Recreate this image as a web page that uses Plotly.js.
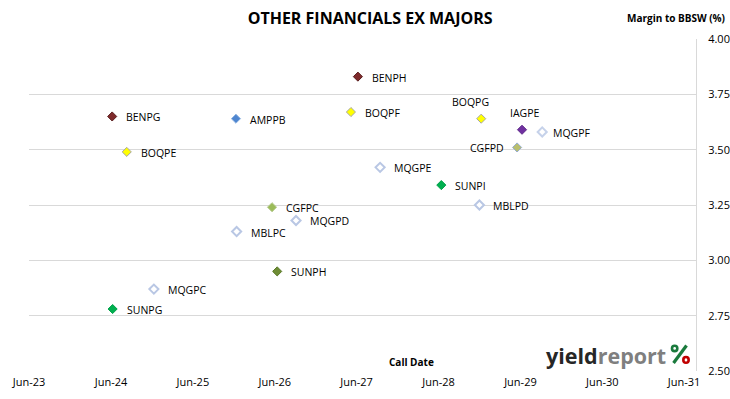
<!DOCTYPE html>
<html>
<head>
<meta charset="utf-8">
<script src="https://cdn.plot.ly/plotly-3.0.1.min.js"></script>
<style>
  html, body { margin: 0; padding: 0; background: #ffffff; }
  #chart { width: 730px; height: 399px; }
</style>
</head>
<body>
<div id="chart"></div>
<script>
// ---- Data ----
const codes = ["BENPH", "BENPG", "AMPPB", "BOQPF", "BOQPE", "BOQPG", "IAGPE", "MQGPF", "CGFPD",
               "MQGPE", "SUNPI", "MBLPD", "CGFPC", "MQGPD", "MBLPC", "SUNPH", "MQGPC", "SUNPG"];
const callDates = ["2027-06-07", "2024-06-06", "2025-12-10", "2027-05-07", "2024-08-10", "2028-12-08",
                   "2029-06-08", "2029-09-06", "2029-05-17", "2027-09-14", "2028-06-13", "2028-11-30",
                   "2026-05-20", "2026-09-04", "2025-12-13", "2026-06-12", "2024-12-09", "2024-06-08"];
const margins = [3.83, 3.65, 3.64, 3.67, 3.49, 3.64, 3.59, 3.58, 3.51,
                 3.42, 3.34, 3.25, 3.24, 3.18, 3.13, 2.95, 2.87, 2.78];
const xTickVals = ["2023-06-01", "2024-06-01", "2025-06-01", "2026-06-01", "2027-06-01",
                   "2028-06-01", "2029-06-01", "2030-06-01", "2031-06-01"];
const xTickText = ["Jun-23", "Jun-24", "Jun-25", "Jun-26", "Jun-27", "Jun-28", "Jun-29", "Jun-30", "Jun-31"];
const yTickVals = [2.5, 2.75, 3.0, 3.25, 3.5, 3.75, 4.0];

// ---- Styles (per issuer) ----
const fillByCode = {
  BENPH: "#7e2a2b", BENPG: "#7e2a2b", AMPPB: "#4f86d0",
  BOQPF: "#ffff00", BOQPE: "#ffff00", BOQPG: "#ffff00",
  IAGPE: "#7030a0", MQGPF: "#ffffff", CGFPD: "#b9bf6e",
  MQGPE: "#ffffff", SUNPI: "#00b050", MBLPD: "#ffffff",
  CGFPC: "#9bbb59", MQGPD: "#ffffff", MBLPC: "#ffffff",
  SUNPH: "#6e8c35", MQGPC: "#ffffff", SUNPG: "#00b050"
};
const lineByCode = {
  BENPH: "#5a1e1e", BENPG: "#5a1e1e", AMPPB: "#8db3e2",
  BOQPF: "#a6a6a6", BOQPE: "#a6a6a6", BOQPG: "#a6a6a6",
  IAGPE: "#5f2a8a", MQGPF: "#c6d2ea", CGFPD: "#95abcf",
  MQGPE: "#b9c7e4", SUNPI: "#00a048", MBLPD: "#b9c7e4",
  CGFPC: "#b3c98a", MQGPD: "#b9c7e4", MBLPC: "#b9c7e4",
  SUNPH: "#5a7a2a", MQGPC: "#b9c7e4", SUNPG: "#00a048"
};
// label placement relative to marker (pixels)
const labelPlace = {
  BOQPG: {anchor: "center", dx: -11, dy: 17},
  IAGPE: {anchor: "left", dx: -14, dy: 17},
  CGFPD: {anchor: "right", dx: -11, dy: -1},
  MQGPF: {anchor: "left", dx: 9, dy: -1}
};

const font = "'Open Sans', 'Noto Sans', sans-serif";

const trace = {
  type: "scatter",
  mode: "markers",
  x: callDates,
  y: margins,
  text: codes,
  hoverinfo: "text",
  marker: {
    symbol: "diamond",
    size: 7,
    opacity: 1,
    color: codes.map(c => fillByCode[c]),
    line: {
      color: codes.map(c => lineByCode[c]),
      width: codes.map(c => fillByCode[c] === "#ffffff" ? 2 : 1)
    }
  },
  showlegend: false,
  cliponaxis: false
};

const annotations = codes.map((c, i) => {
  const p = labelPlace[c] || {anchor: "left", dx: 12, dy: -1};
  return {
    x: callDates[i], y: margins[i], xref: "x", yref: "y",
    text: c, showarrow: false,
    xanchor: p.anchor, yanchor: "middle",
    xshift: p.dx, yshift: p.dy,
    font: {family: font, size: 10.5, color: "#000000"}
  };
});

annotations.push({
  text: "Margin to BBSW (%)", xref: "paper", yref: "paper",
  x: 1.0465, y: 1.0, xanchor: "right", yanchor: "bottom", yshift: 12,
  showarrow: false, font: {family: font, size: 10, color: "#000000", weight: "bold"}
});
annotations.push({
  text: "Call Date", xref: "paper", yref: "paper",
  x: 0.573, y: 0, xanchor: "center", yanchor: "bottom", yshift: 0,
  showarrow: false, font: {family: font, size: 10, color: "#000000", weight: "bold"}
});
annotations.push({
  text: "<b><span style='color:#262626'>yield</span><span style='color:#7f7f7f'>report</span></b>",
  xref: "paper", yref: "paper",
  x: 0.7715, y: 0.047, xanchor: "left", yanchor: "middle",
  showarrow: false, font: {family: font, size: 21.5, color: "#262626"}
});

// logo "%" glyph drawn as shapes (green top ring + slash, red bottom dot)
const logoShapes = [
  {type: "line", xref: "paper", yref: "paper", x0: 0.9858, y0: 0.0768, x1: 0.9663, y1: 0.0241,
   line: {color: "#1a7a3c", width: 3.2}},
  {type: "circle", xref: "paper", yref: "paper", x0: 0.9640, x1: 0.9720, y0: 0.0600, y1: 0.0760,
   fillcolor: "#ffffff", line: {color: "#1a7a3c", width: 2.6}},
  {type: "circle", xref: "paper", yref: "paper", x0: 0.9810, x1: 0.9890, y0: 0.0250, y1: 0.0420,
   fillcolor: "#ffffff", line: {color: "#c00000", width: 2.6}}
];

const layout = {
  width: 730,
  height: 399,
  margin: {l: 29, r: 34, t: 39, b: 28, pad: 0},
  paper_bgcolor: "#ffffff",
  plot_bgcolor: "#ffffff",
  title: {
    text: "<b>OTHER FINANCIALS EX MAJORS</b>",
    font: {family: font, size: 16, color: "#000000"},
    x: 0.507, xanchor: "center", y: 0.955, yanchor: "middle"
  },
  xaxis: {
    type: "date",
    range: ["2023-06-01", "2031-07-24"],
    tickmode: "array",
    tickvals: xTickVals,
    ticktext: xTickText,
    showgrid: false,
    zeroline: false,
    showline: false,
    ticks: "",
    ticklabelstandoff: 3,
    tickfont: {family: font, size: 11, color: "#000000"},
    fixedrange: true
  },
  yaxis: {
    side: "right",
    range: [2.5, 4.0],
    tickmode: "array",
    tickvals: yTickVals,
    tickformat: ".2f",
    showgrid: true,
    gridcolor: "#d9d9d9",
    gridwidth: 1,
    zeroline: false,
    showline: true,
    linecolor: "#d9d9d9",
    linewidth: 1,
    ticks: "",
    ticklabelstandoff: 9,
    tickfont: {family: font, size: 11, color: "#000000"},
    fixedrange: true
  },
  annotations: annotations,
  shapes: logoShapes
};

Plotly.newPlot("chart", [trace], layout, {displayModeBar: false, staticPlot: true});
</script>
</body>
</html>
